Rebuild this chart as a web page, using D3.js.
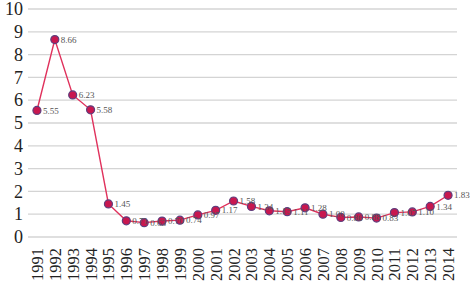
<!DOCTYPE html>
<html lang="en">
<head>
  <meta charset="UTF-8">
  <title>Annual values 1991-2014</title>
  <style>
    body {
      margin: 0;
      padding: 0;
      background-color: #ffffff;
    }
  </style>
</head>
<body>
<div id="chart"></div>
<script src="https://d3js.org/d3.v7.min.js"></script>
<script>
  const years = ["1991", "1992", "1993", "1994", "1995", "1996", "1997", "1998",
    "1999", "2000", "2001", "2002", "2003", "2004", "2005", "2006", "2007",
    "2008", "2009", "2010", "2011", "2012", "2013", "2014"];
  const values = [5.55, 8.66, 6.23, 5.58, 1.45, 0.71, 0.63, 0.70, 0.74, 0.97,
    1.17, 1.58, 1.34, 1.15, 1.11, 1.28, 1.00, 0.86, 0.88, 0.83, 1.07, 1.10,
    1.34, 1.83];
  const yTicks = [0, 1, 2, 3, 4, 5, 6, 7, 8, 9, 10];

  const serif = "'Liberation Serif', 'DejaVu Serif', serif";
  const width = 470;
  const height = 286;
  const margin = { top: 9, right: 13, bottom: 49, left: 28 };

  const data = years.map((y, i) => ({ year: y, value: values[i] }));

  const svg = d3.select("#chart").append("svg")
    .attr("width", width)
    .attr("height", height)
    .attr("font-family", serif);

  const x = d3.scalePoint()
    .domain(years)
    .range([margin.left, width - margin.right])
    .padding(0.5);

  const y = d3.scaleLinear()
    .domain([0, 10])
    .range([height - margin.bottom, margin.top]);

  // gridlines
  svg.append("g")
    .selectAll("line")
    .data(yTicks)
    .join("line")
    .attr("x1", margin.left)
    .attr("x2", width - margin.right)
    .attr("y1", d => y(d))
    .attr("y2", d => y(d))
    .attr("stroke", "#d4d4d4")
    .attr("stroke-width", 1.3);

  // y axis labels
  const yAxis = svg.append("g")
    .attr("transform", `translate(${margin.left - 5},0)`)
    .call(d3.axisLeft(y).tickValues(yTicks).tickSize(0).tickPadding(0))
    .attr("font-family", serif);
  yAxis.select(".domain").remove();
  yAxis.selectAll("text")
    .attr("font-size", 18)
    .attr("fill", "#222");

  // x axis labels
  const xAxis = svg.append("g")
    .attr("transform", `translate(0,${height - margin.bottom + 11})`)
    .call(d3.axisBottom(x).tickSize(0).tickPadding(0))
    .attr("font-family", serif);
  xAxis.select(".domain").remove();
  xAxis.selectAll("text")
    .attr("font-size", 16.5)
    .attr("fill", "#222")
    .attr("transform", "rotate(-90)")
    .attr("text-anchor", "end")
    .attr("dy", "0.33em")
    .attr("x", 0)
    .attr("y", 0);

  // line
  const line = d3.line()
    .x(d => x(d.year))
    .y(d => y(d.value));

  svg.append("path")
    .datum(data)
    .attr("d", line)
    .attr("fill", "none")
    .attr("stroke", "#e0315c")
    .attr("stroke-width", 1.4);

  // markers
  svg.append("g")
    .selectAll("circle")
    .data(data)
    .join("circle")
    .attr("cx", d => x(d.year))
    .attr("cy", d => y(d.value))
    .attr("r", 4)
    .attr("fill", "#c8174f")
    .attr("stroke", "#5e3f7e")
    .attr("stroke-width", 1.2);

  // value labels
  svg.append("g")
    .selectAll("text")
    .data(data)
    .join("text")
    .attr("x", d => x(d.year) + 6)
    .attr("y", d => y(d.value))
    .attr("dy", "0.35em")
    .attr("font-size", 9)
    .attr("fill", "#555")
    .text(d => d.value.toFixed(2));
</script>
</body>
</html>
